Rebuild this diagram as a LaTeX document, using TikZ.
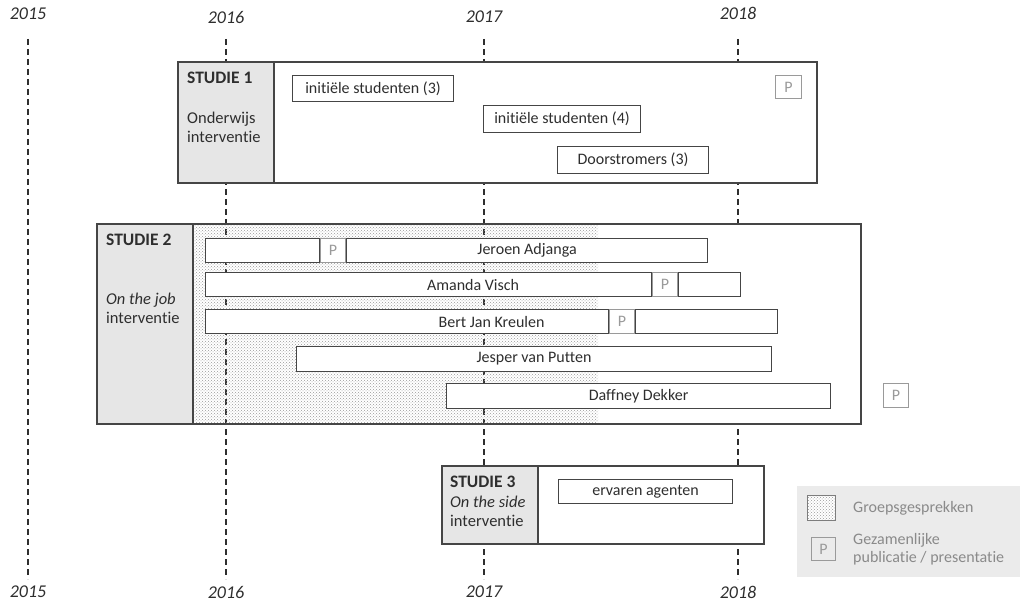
\documentclass[tikz,border=0pt]{standalone}
\usepackage{fontspec}
\setmainfont{Carlito}[Ligatures=NoCommon]
\usetikzlibrary{positioning, patterns, calc}

\definecolor{txtdark}{HTML}{2E2E2E}
\definecolor{framegray}{HTML}{454545}
\definecolor{colgray}{HTML}{E6E6E6}
\definecolor{pgray}{HTML}{9A9A9A}
\definecolor{legendbg}{HTML}{EBEBEB}
\definecolor{legendtxt}{HTML}{8A8A8A}

\begin{document}
\begin{tikzpicture}
    [
        x=1pt, y=-1pt,
        font=\fontsize{16}{19}\selectfont, text=txtdark,
        yearlabel/.style={font=\fontsize{18}{20}\selectfont\itshape},
        yearline/.style={draw=txtdark, line width=2pt, dash pattern=on 6pt off 4pt},
        frame/.style={draw=framegray, line width=1.2pt},
        groepsdots/.style={pattern=crosshatch dots, pattern color=gray!80},
        bar/.style={rectangle, draw=framegray, line width=1.1pt, fill=white, inner sep=0pt, minimum height=24pt, anchor=north west},
        pbox/.style={rectangle, draw=pgray, line width=0.9pt, fill=white, text=pgray, inner sep=0pt, minimum width=25pt, minimum height=24pt},
        studytitle/.style={anchor=west, inner sep=0pt, font=\fontsize{17.5}{20}\selectfont\bfseries},
        studysub/.style={anchor=west, align=left, inner sep=0pt, font=\fontsize{16.5}{19}\selectfont},
    ]
        \useasboundingbox (0,0) rectangle (1023,604);

        % years and dashed year lines
        \foreach \yr/\x/\ty in {2015/28/14, 2016/226/17, 2017/484/17, 2018/738/13} {
            \node[yearlabel] (top\yr) at (\x,\ty) {\yr};
            \node[yearlabel] (bot\yr) at (\x,592) {\yr};
            \draw[yearline] (\x,39) -- (\x,579);
        }

        % studie 1
        \fill[white] (274,62) rectangle (817,183);
        \fill[colgray] (178,62) rectangle (274,183);
        \draw[frame] (178,62) rectangle (817,183) (274,62) -- (274,183);
        \node[studytitle] (s1title) at (187,78) {STUDIE 1};
        \node[studysub] (s1sub) at (187,127) {Onderwijs\\interventie};
        \node[bar, minimum width=161pt, minimum height=26pt] (s1a) at (292,75) {initiële studenten (3)};
        \node[bar, minimum width=157pt, minimum height=27pt] (s1b) at (483,105) {initiële studenten (4)};
        \node[bar, minimum width=151pt, minimum height=27pt] (s1c) at (557,146) {Doorstromers (3)};
        \node[pbox, anchor=north west, minimum width=26pt, minimum height=23pt] (s1p) at (775,75) {P};

        % studie 2
        \fill[white] (598,224) rectangle (861,424);
        \fill[groepsdots] (193,224) rectangle (598,424);
        \fill[colgray] (97,224) rectangle (193,424);
        \draw[frame] (97,224) rectangle (861,424) (193,224) -- (193,424);
        \node[studytitle] (s2title) at (106,240) {STUDIE 2};
        \node[studysub] (s2sub) at (106,308) {\textit{On the job}\\interventie};

        \node[bar, minimum width=114pt] (r1a) at (205,238) {};
        \node[pbox, right=0pt of r1a] (r1p) {P};
        \node[bar, minimum width=361pt, right=0pt of r1p] (r1b) {Jeroen Adjanga};

        \node[bar, minimum width=446pt] (r2a) at (205,272) {};
        \node[pbox, right=0pt of r2a] (r2p) {P};
        \node[bar, minimum width=62pt, right=0pt of r2p] (r2b) {};
        \node (r2t) at ($(r2a.west)!.5!(r2b.east)$) {Amanda Visch};

        \node[bar, minimum width=403pt] (r3a) at (205,309) {};
        \node[pbox, right=0pt of r3a] (r3p) {P};
        \node[bar, minimum width=142pt, right=0pt of r3p] (r3b) {};
        \node (r3t) at ($(r3a.west)!.5!(r3b.east)$) {Bert Jan Kreulen};

        \node[bar, minimum width=475pt, minimum height=25pt] (r4) at (296,346) {Jesper van Putten};
        \node[bar, minimum width=384pt, minimum height=25pt] (r5) at (446,383) {Daffney Dekker};
        \node[pbox, anchor=north west] (r5p) at (883,383) {P};

        % studie 3
        \fill[white] (538,466) rectangle (764,544);
        \fill[colgray] (442,466) rectangle (538,544);
        \draw[frame] (442,466) rectangle (764,544) (538,466) -- (538,544);
        \node[studytitle] (s3title) at (450,482) {STUDIE 3};
        \node[studysub] (s3sub) at (450,511) {\textit{On the side}\\interventie};
        \node[bar, minimum width=174pt] (s3a) at (558,479) {ervaren agenten};

        % legend
        \fill[legendbg] (797,486) rectangle (1020,577);
        \node[rectangle, draw=framegray!70, line width=0.9pt, preaction={fill=white}, groepsdots, inner sep=0pt, minimum width=28pt, minimum height=25pt, anchor=north west] (lgdots) at (807,495) {};
        \node[pbox, fill=none, anchor=north west, minimum width=24pt, minimum height=23pt] (lgp) at (811,537) {P};
        \node[anchor=west, inner sep=0pt, text=legendtxt] (lgdotstxt) at (853,508) {Groepsgesprekken};
        \node[anchor=west, align=left, inner sep=0pt, text=legendtxt, font=\fontsize{16}{18}\selectfont] (lgptxt) at (853,549) {Gezamenlijke\\publicatie / presentatie};
    \end{tikzpicture}
\end{document}
